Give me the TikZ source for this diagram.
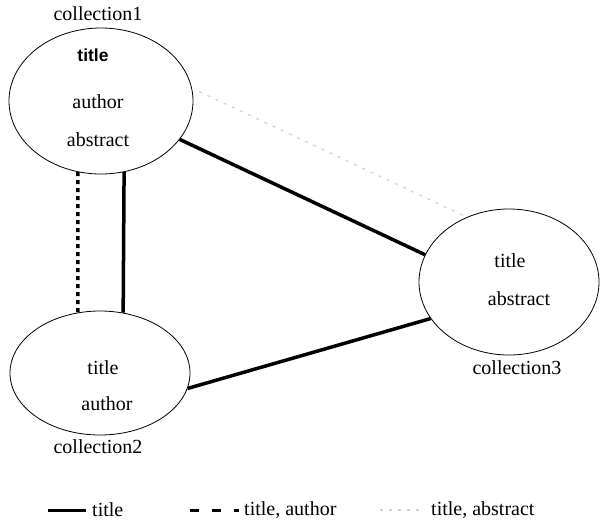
\documentclass[tikz,border=0pt]{standalone}
\usepackage{fontspec}
\setmainfont{Liberation Serif}
\newfontfamily\fieldserif{Liberation Serif}
\newfontfamily\fieldsans{Liberation Sans}
\usetikzlibrary{shapes.geometric}
\tikzset{
  coll/.style={draw, ellipse, line width=0.8pt, inner sep=0pt},
  field/.style={font=\fieldserif\fontsize{20}{24}\selectfont, inner sep=0pt},
  bothlink/.style={line width=3.5pt},
  authlink/.style={line width=3.5pt, dash pattern=on 4pt off 4pt},
  abslink/.style={line width=1.2pt, black!18, dash pattern=on 3pt off 6pt}
}
\begin{document}
\begin{tikzpicture}[x=1pt, y=-1pt]
  \useasboundingbox (0,0) rectangle (605,523);

  % collections
  \node[coll, minimum width=184pt, minimum height=146pt] (c1) at (101,101) {};
  \node[coll, minimum width=180pt, minimum height=124pt] (c2) at (100,373) {};
  \node[coll, minimum width=180pt, minimum height=146pt] (c3) at (509,282) {};

  \node[field] (n1) at (98,14) {collection1};
  \node[field] (n2) at (98,447) {collection2};
  \node[field] (n3) at (517,368) {collection3};

  % fields
  \node[field, font=\fieldsans\bfseries\fontsize{17.5}{20}\selectfont] (t1) at (93,55) {title};
  \node[field] (a1) at (98,102) {author};
  \node[field] (s1) at (98,140) {abstract};
  \node[field] (t2) at (103,368) {title};
  \node[field] (a2) at (107,404) {author};
  \node[field] (t3) at (510,261) {title};
  \node[field] (s3) at (519,299) {abstract};

  % links
  \draw[bothlink] (c1.-26.3) -- (c3.162.6);
  \draw[bothlink] (c2.-10.7) -- (c3.-155.5);
  \draw[bothlink] (c1.-72.8) -- (c2.69);
  \draw[authlink] (c1.-108) -- (c2.110.1);
  \draw[abslink, shorten <=8pt] (c1.8) -- (c3.123);

  % legend
  \coordinate (l1a) at (48,510);  \coordinate (l1b) at (86,510);
  \coordinate (l2a) at (190,510); \coordinate (l2b) at (239,510);
  \coordinate (l3a) at (380,510); \coordinate (l3b) at (420,510);
  \draw[line width=3pt] (l1a) -- (l1b);
  \draw[line width=3pt, dash pattern=on 9pt off 13pt] (l2a) -- (l2b);
  \draw[abslink] (l3a) -- (l3b);
  \node[field, anchor=west] (k1) at (92,510) {title};
  \node[field, anchor=west] (k2) at (244,510) {title, author};
  \node[field, anchor=west] (k3) at (431,510) {title, abstract};
\end{tikzpicture}
\end{document}
